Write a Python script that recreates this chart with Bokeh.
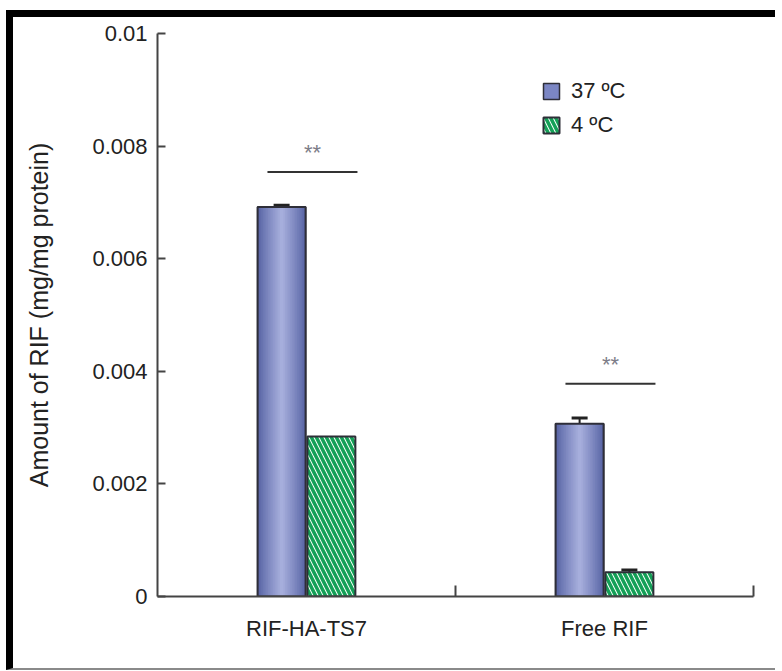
from bokeh.plotting import figure
from bokeh.models import (ColumnDataSource, FixedTicker, Range1d, Whisker, TeeHead,
                          Legend, LegendItem)
from bokeh.core.properties import value
from bokeh.embed import file_html
from bokeh.resources import INLINE

# Cellular uptake of rifampicin at two incubation temperatures
categories = ["RIF-HA-TS7", "Free RIF"]
series_names = ["37 ºC", "4 ºC"]
uptake_37 = [0.00692, 0.00307]
err_37 = [0.00003, 0.00010]
uptake_4 = [0.00284, 0.00043]
err_4 = [0.0, 0.00004]
y_ticks = [0, 0.002, 0.004, 0.006, 0.008, 0.01]
y_tick_labels = ["0", "0.002", "0.004", "0.006", "0.008", "0.01"]
sig_marks = ["**", "**"]
sig_levels = [0.00754, 0.00378]

FONT = "Liberation Sans"
TEXT = "#222222"
AXIS = "#444444"
BLUE_DARK = (88, 100, 165)
BLUE_LIGHT = (166, 174, 220)
GREEN = "#14a057"

bar_w = 0.161
offset = 0.0835
centers = [i + 0.5 for i in range(len(categories))]

p = figure(width=769, height=660, x_range=Range1d(0, 2), y_range=Range1d(0, 0.01),
           output_backend="svg", toolbar_location=None,
           min_border_left=144, min_border_right=29, min_border_top=16, min_border_bottom=81)
p.styles = {"margin-left": "6px", "margin-top": "10px",
            "border-left": "7px solid black", "border-top": "7px solid black",
            "border-bottom": "2px solid #8a8a8a"}
p.outline_line_color = None
p.grid.visible = False
p.background_fill_color = "white"

# --- y axis
ya = p.yaxis[0]
ya.ticker = FixedTicker(ticks=y_ticks, minor_ticks=[])
ya.major_label_overrides = {t: s for t, s in zip(y_ticks, y_tick_labels)}
ya.major_tick_in = 8
ya.major_tick_out = 0
ya.major_tick_line_width = 2
ya.major_tick_line_color = AXIS
ya.axis_line_width = 2
ya.axis_line_color = AXIS
ya.major_label_standoff = 10
ya.major_label_text_font = FONT
ya.major_label_text_font_size = "22px"
ya.major_label_text_color = TEXT
ya.axis_label = "Amount of RIF (mg/mg protein)"
ya.axis_label_text_font = FONT
ya.axis_label_text_font_size = "25px"
ya.axis_label_text_font_style = "normal"
ya.axis_label_text_color = TEXT
ya.axis_label_standoff = 36

# --- x axis: labels at group centres, dividing ticks as minor ticks
xa = p.xaxis[0]
xa.ticker = FixedTicker(ticks=centers, minor_ticks=[1.0, 2.0])
xa.major_label_overrides = {c: n for c, n in zip(centers, categories)}
xa.major_tick_in = 0
xa.major_tick_out = 0
xa.minor_tick_in = 11
xa.minor_tick_out = 0
xa.minor_tick_line_width = 2
xa.minor_tick_line_color = AXIS
xa.axis_line_width = 2
xa.axis_line_color = AXIS
xa.major_label_standoff = 19
xa.major_label_text_font = FONT
xa.major_label_text_font_size = "22px"
xa.major_label_text_color = TEXT

# --- 37 ºC bars: base, shaded cylinder strips, outline on top
x37 = [c - offset for c in centers]
x4 = [c + offset for c in centers]
src37 = ColumnDataSource(dict(x=x37, top=uptake_37, upper=[t + e for t, e in zip(uptake_37, err_37)]))
base37 = p.vbar(x="x", top="top", width=bar_w, source=src37,
                fill_color="#7b86c4", line_color="#2e2e38", line_width=1.5)
n_strips = 14
for k in range(n_strips):
    f = k / (n_strips - 1)
    col = tuple(int(round(d + (l - d) * f ** 0.9)) for d, l in zip(BLUE_DARK, BLUE_LIGHT))
    p.vbar(x="x", top="top", width=bar_w * (1 - k / n_strips), source=src37,
           fill_color="#%02x%02x%02x" % col, line_color=None)
p.vbar(x="x", top="top", width=bar_w, source=src37,
       fill_color=None, line_color="#2e2e38", line_width=2)

# --- 4 ºC bars: hatched
src4 = ColumnDataSource(dict(x=x4, top=uptake_4, upper=[t + e for t, e in zip(uptake_4, err_4)]))
bars4 = p.vbar(x="x", top="top", width=bar_w, source=src4,
               fill_color="white", line_color="#2e2e38", line_width=2,
               hatch_pattern="\\", hatch_color=GREEN, hatch_weight=3.5, hatch_scale=10)

# --- error bars (upper only)
for src, errs in ((src37, err_37), (src4, err_4)):
    keep = [i for i, e in enumerate(errs) if e > 0]
    sub = ColumnDataSource(dict(x=[src.data["x"][i] for i in keep],
                                top=[src.data["top"][i] for i in keep],
                                upper=[src.data["upper"][i] for i in keep]))
    p.add_layout(Whisker(source=sub, base="x", lower="top", upper="upper", dimension="height",
                         line_color="#222222", line_width=2, lower_head=None,
                         upper_head=TeeHead(size=16, line_width=3, line_color="#222222")))

# --- significance brackets
sig_x0 = [c - 0.131 for c in centers]
sig_x1 = [c + 0.171 for c in centers]
p.segment(x0=sig_x0, x1=sig_x1, y0=sig_levels, y1=sig_levels, line_color="#333333", line_width=2)
p.text(x=[(a + b) / 2 for a, b in zip(sig_x0, sig_x1)], y=sig_levels, text=sig_marks,
       text_font=value(FONT), text_font_size="22px", text_color="#7d7d88",
       text_align="center", text_baseline="bottom", y_offset=-7)

# --- legend
legend = Legend(items=[LegendItem(label=series_names[0], renderers=[base37]),
                       LegendItem(label=series_names[1], renderers=[bars4])],
                location=(384, 458), orientation="vertical",
                glyph_width=20, glyph_height=20, label_height=20, label_standoff=10,
                spacing=8, padding=0, margin=0,
                label_text_font=FONT, label_text_font_size="22px", label_text_color=TEXT,
                border_line_alpha=0, background_fill_alpha=0)
p.add_layout(legend)

open("out.html", "w").write(file_html(p, INLINE))
